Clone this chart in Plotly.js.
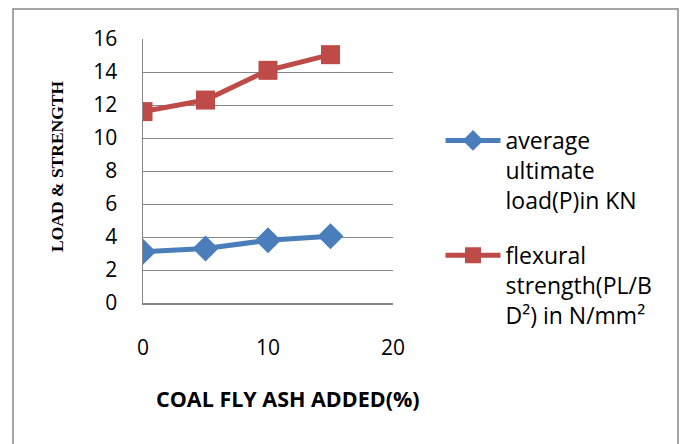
<!DOCTYPE html>
<html>
<head>
<meta charset="utf-8">
<script src="https://cdn.plot.ly/plotly-3.0.1.min.js"></script>
<style>
html,body{margin:0;padding:0;background:#fff;}
#chart{width:688px;height:444px;}
</style>
</head>
<body>
<div id="chart"></div>
<script>
const flyAsh = [0, 5, 10, 15];
const avgLoad = [3.1, 3.3, 3.8, 4.05];
const flexStrength = [11.6, 12.3, 14.1, 15.05];
const seriesNames = ["average<br>ultimate<br>load(P)in KN", "flexural<br>strength(PL/B<br>D²) in N/mm²"];
const yTicks = [0, 2, 4, 6, 8, 10, 12, 14, 16];
const xTicks = [0, 10, 20];

const W = 688, H = 444;
const mL = 143, mR = 295, mT = 39, mB = 141;
const pw = W - mL - mR, ph = H - mT - mB;
const px = v => (v - mL) / pw;
const py = v => (H - mB - v) / ph;

const traces = [
  {x: flyAsh, y: avgLoad, name: seriesNames[0], type: 'scatter', mode: 'lines+markers',
   legendgroup: 'a',
   line: {color: '#4A7EBB', width: 5}, marker: {symbol: 'diamond', size: 20, color: '#4A7EBB'}},
  {x: flyAsh, y: flexStrength, name: seriesNames[1], type: 'scatter', mode: 'lines+markers',
   legendgroup: 'b',
   line: {color: '#BE4B48', width: 5}, marker: {symbol: 'square', size: 19, color: '#BE4B48'}}
];

const layout = {
  width: W, height: H,
  margin: {l: mL, r: mR, t: mT, b: mB},
  paper_bgcolor: '#fff', plot_bgcolor: '#fff',
  font: {family: 'Open Sans, Liberation Sans, sans-serif', color: '#000', size: 21},
  showlegend: true,
  legend: {x: 1.19, y: py(119), xanchor: 'left', yanchor: 'top', valign: 'top',
           font: {size: 23, family: 'Open Sans, sans-serif'}, tracegroupgap: 22,
           itemwidth: 55, bgcolor: 'rgba(0,0,0,0)'},
  xaxis: {range: [0, 20], tickvals: xTicks, ticktext: xTicks.map(String), showgrid: false,
          zeroline: false, showline: true, linecolor: '#868686', linewidth: 1.5,
          ticks: 'outside', ticklen: 25, tickcolor: 'rgba(0,0,0,0)',
          tickfont: {size: 21}, fixedrange: true},
  yaxis: {range: [0, 16], tickvals: yTicks, ticktext: yTicks.map(String), showgrid: true,
          gridcolor: '#868686', gridwidth: 1, zeroline: false, showline: true,
          linecolor: '#868686', linewidth: 1.5, ticks: 'outside', ticklen: 20,
          tickcolor: 'rgba(0,0,0,0)', tickfont: {size: 21}, fixedrange: true},
  annotations: [
    {text: '<b>COAL FLY ASH ADDED(%)</b>', xref: 'paper', yref: 'paper', x: px(288), y: py(398),
     xanchor: 'center', yanchor: 'middle', showarrow: false,
     font: {size: 21.5, family: 'Open Sans, sans-serif', color: '#000'}},
    {text: '<b>LOAD &amp; STRENGTH</b>', xref: 'paper', yref: 'paper', x: px(57), y: py(166),
     xanchor: 'center', yanchor: 'middle', showarrow: false, textangle: -90,
     font: {size: 17.5, family: 'Liberation Serif, Times New Roman, serif', color: '#000'}}
  ],
  shapes: [
    {type: 'rect', xref: 'paper', yref: 'paper', x0: px(13), x1: px(678), y0: py(460), y1: py(9),
     line: {color: '#868686', width: 1.5}, fillcolor: 'rgba(0,0,0,0)', layer: 'below'}
  ]
};

Plotly.newPlot('chart', traces, layout, {displayModeBar: false, staticPlot: true});
</script>
</body>
</html>
